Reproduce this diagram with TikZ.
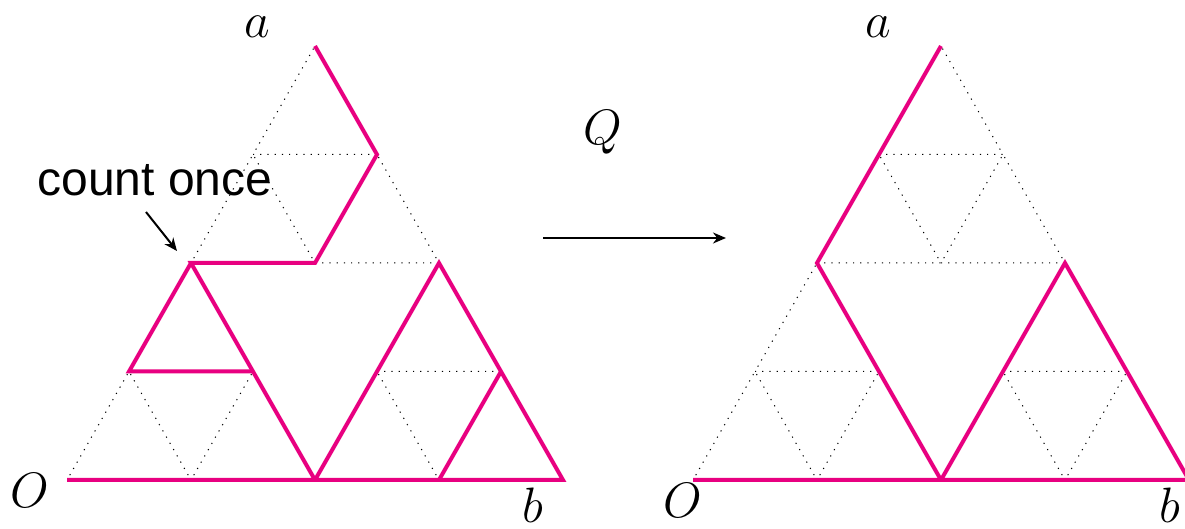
\documentclass[tikz,border=0pt]{standalone}
\usepackage{amsmath,amssymb}
\usepackage{fontspec}
\newfontfamily\labelfont{Liberation Sans}
\usetikzlibrary{arrows.meta, positioning}
\definecolor{pathpink}{RGB}{232,0,128}

\begin{document}
\begin{tikzpicture}[
        x=0.5pt, y=-0.5pt,
        every node/.style={align=center, inner sep=0pt},
        lbl/.style={font=\fontsize{26}{30}\selectfont},
        note/.style={font=\labelfont\fontsize{24}{28}\selectfont},
        grid/.style={line width=0.5pt, dash pattern=on 0.6pt off 3pt},
        walk/.style={pathpink, line width=2pt},
        arr/.style={-{Stealth[length=6.5pt, width=5.5pt]}, line width=1pt}
    ]
        \useasboundingbox (0,0) rectangle (1185,529);
        % lattice points of both triangles
        \foreach \s/\dx in {L/0, R/626}{
            \foreach \i in {0,...,4}{
                \foreach \j in {0,...,4}{
                    \coordinate (\s\i\j) at ({67+\dx+124*\i+62*\j}, {480-108.5*\j});
                }
            }
        }
        % the nine small triangles, dotted
        \foreach \s in {L, R}{
            \foreach \i/\j in {0/0,1/0,0/1,2/0,3/0,2/1,0/2,1/2,0/3}{
                \pgfmathtruncatemacro\ip{\i+1}
                \pgfmathtruncatemacro\jp{\j+1}
                \draw[grid] (\s\i\j) -- (\s\ip\j) -- (\s\i\jp) -- cycle;
            }
        }
        % left path
        \draw[walk] (L04) -- (L13) -- (L12) -- (L02) -- (L20) -- (L00);
        \draw[walk] (L11) -- (L01) -- (L02);
        \draw[walk] (L20) -- (L40) -- (L22) -- cycle;
        \draw[walk] (L30) -- (L31);
        % right path
        \draw[walk] (R04) -- (R02) -- (R20);
        \draw[walk] (R00) -- (R40) -- (R22) -- (R20);
        % labels
        \node[lbl] (aL) at (257,27) {$a$};
        \node[lbl] (OL) at (30,490) {$O$};
        \node[lbl] (bL) at (533,505) {$b$};
        \node[lbl] (aR) at (878,27) {$a$};
        \node[lbl] (OR) at (683,500) {$O$};
        \node[lbl] (bR) at (1170,505) {$b$};
        \node[lbl] (map) at (603,132) {$Q$};
        \node[note] (once) at (155,180) {count once};
        % arrows
        \coordinate (qs) at (543,238);
        \coordinate (qe) at (726,238);
        \draw[arr] (qs) -- (qe);
        \coordinate (os) at (146,212);
        \coordinate (oe) at (177,251);
        \draw[arr] (os) -- (oe);
\end{tikzpicture}
\end{document}
